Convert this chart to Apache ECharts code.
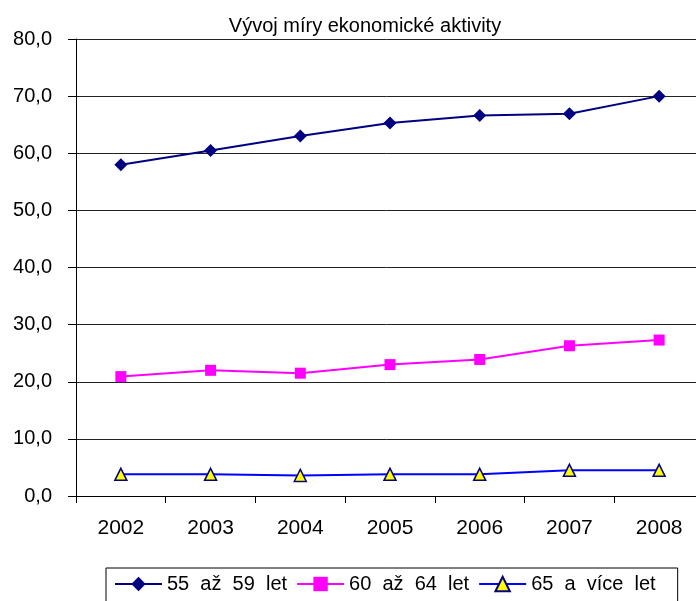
<!DOCTYPE html>
<html><head><meta charset="utf-8">
<script src="https://cdn.jsdelivr.net/npm/echarts@6/dist/echarts.min.js"></script>
<style>html,body{margin:0;padding:0;background:#fff}#c{width:696px;height:601px}</style>
</head><body><div id="c"></div>
<script>
const categories = ['2002','2003','2004','2005','2006','2007','2008'];
const s55 = [58.0, 60.5, 63.0, 65.3, 66.6, 66.9, 70.0];
const s60 = [20.9, 22.0, 21.5, 23.0, 23.9, 26.3, 27.3];
const s65 = [3.8, 3.8, 3.6, 3.8, 3.8, 4.5, 4.5];
const names = ['55  až  59  let', '60  až  64  let', '65  a  více  let'];
const font = 'Liberation Sans, Arial, sans-serif';
const chart = echarts.init(document.getElementById('c'));
chart.setOption({
  animation: false,
  title: { text: 'Vývoj míry ekonomické aktivity', left: 360, top: 11, textAlign: 'center',
    textStyle: { fontFamily: font, fontSize: 20, fontWeight: 'normal', color: '#000' } },
  legend: {
    left: 106, top: 568, padding: [6, 22, 20, 8],
    borderColor: '#000', borderWidth: 1, itemGap: 9, itemWidth: 47, itemHeight: 18,
    textStyle: { fontFamily: font, fontSize: 20, color: '#000' },
    data: names
  },
  grid: { left: 76, top: 39, right: -8, height: 457, outerBoundsMode: 'none' },
  xAxis: {
    type: 'category', data: categories, boundaryGap: true,
    axisLine: { lineStyle: { color: '#000', width: 1 } },
    axisTick: { show: true, length: 7, inside: false, lineStyle: { color: '#000' } },
    axisLabel: { fontFamily: font, fontSize: 21, color: '#000', margin: 22 }
  },
  yAxis: {
    type: 'value', min: 0, max: 80, interval: 10,
    axisLine: { show: true, lineStyle: { color: '#000' } },
    axisTick: { show: true, length: 8, lineStyle: { color: '#000' } },
    splitLine: { show: true, lineStyle: { color: '#222', width: 1 } },
    axisLabel: { fontFamily: font, fontSize: 20, color: '#000', margin: 24,
      formatter: v => v.toFixed(1).replace('.', ',') }
  },
  series: [
    { name: names[0], type: 'line', data: s55, symbol: 'diamond', symbolSize: 13,
      lineStyle: { color: '#000080', width: 2 }, itemStyle: { color: '#000080' } },
    { name: names[1], type: 'line', data: s60, symbol: 'rect', symbolSize: 11,
      lineStyle: { color: '#FF00FF', width: 2 }, itemStyle: { color: '#FF00FF' } },
    { name: names[2], type: 'line', data: s65, symbol: 'triangle', symbolSize: 12,
      lineStyle: { color: '#0000FF', width: 2 },
      itemStyle: { color: '#FFFF00', borderColor: '#000080', borderWidth: 1.5 } }
  ]
});
</script></body></html>
